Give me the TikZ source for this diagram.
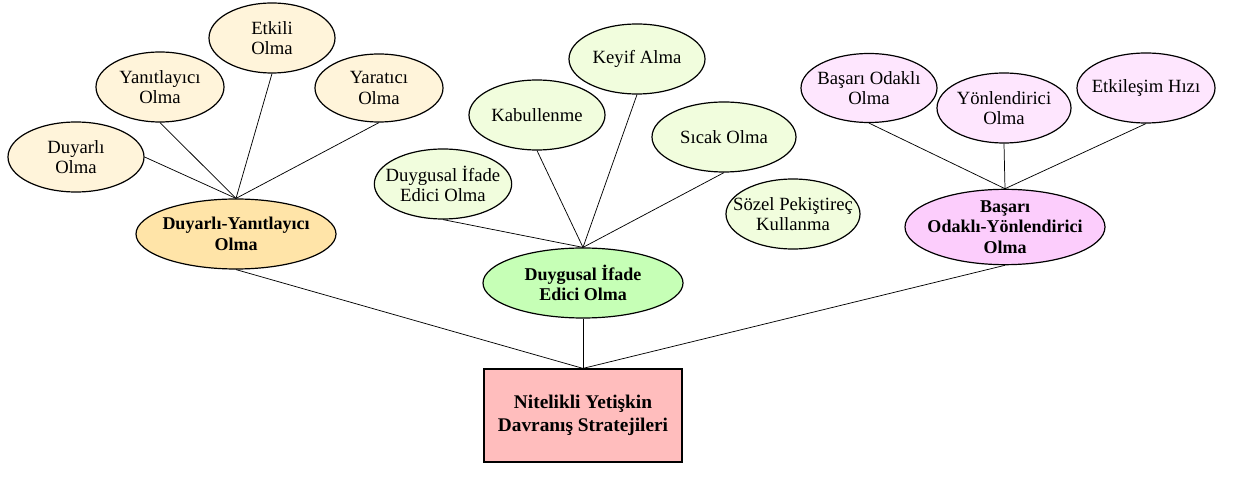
\documentclass[tikz,border=0pt]{standalone}
\usepackage{fontspec}
\setmainfont{Liberation Serif}
\usetikzlibrary{shapes.geometric}
\definecolor{ylight}{HTML}{FFF4DA}
\definecolor{ymain}{HTML}{FFE4A8}
\definecolor{glight}{HTML}{F1FDDD}
\definecolor{gmain}{HTML}{C6FFB6}
\definecolor{plight}{HTML}{FEE6FE}
\definecolor{pmain}{HTML}{FCCDFC}
\definecolor{rootfill}{HTML}{FFBDBD}
\tikzset{
  oval/.style={ellipse, draw=black, line width=0.9pt, inner ysep=0pt, inner xsep=-14pt,
    align=center, minimum width=102pt, minimum height=52.5pt,
    font=\fontsize{14}{15.5}\selectfont},
  mainoval/.style={oval, inner xsep=-8pt, minimum width=150pt,
    font=\fontsize{13.5}{15.5}\selectfont\bfseries},
  rootbox/.style={rectangle, draw=black, line width=0.9pt, fill=rootfill, align=center,
    minimum width=148.5pt, minimum height=69.75pt, inner sep=0pt,
    font=\fontsize{14.5}{17.5}\selectfont\bfseries},
  link/.style={draw=black, line width=0.55pt}
}
\begin{document}
\begin{tikzpicture}[x=0.75pt,y=-0.75pt]
\useasboundingbox (0,0) rectangle (1233,477);

% first branch
\node[oval, fill=ylight, minimum width=94.5pt] (etk) at (272,38) {Etkili\\Olma};
\node[oval, fill=ylight, minimum width=96pt] (yan) at (160,87) {Yanıtlayıcı\\Olma};
\node[oval, fill=ylight, minimum width=96pt, minimum height=51pt] (yar) at (379,88) {Yaratıcı\\Olma};
\node[oval, fill=ylight] (duy) at (76,157) {Duyarlı\\Olma};
\node[mainoval, fill=ymain] (dy) at (236,234) {Duyarlı-Yanıtlayıcı\\Olma};

% second branch
\node[oval, fill=glight] (key) at (637,59) {Keyif Alma};
\node[oval, fill=glight] (kab) at (537,115) {Kabullenme};
\node[oval, fill=glight, minimum width=108pt] (sic) at (724,137) {Sıcak Olma};
\node[oval, fill=glight, minimum width=103pt] (dis) at (443,184) {Duygusal İfade\\Edici Olma};
\node[oval, fill=glight, minimum width=100.5pt] (soz) at (793,214) {Sözel Pekiştireç\\Kullanma};
\node[mainoval, fill=gmain] (die) at (583,283) {Duygusal İfade\\Edici Olma};

% third branch
\node[oval, fill=plight, minimum height=51.75pt] (bas) at (869,88) {Başarı Odaklı\\Olma};
\node[oval, fill=plight, minimum width=100.5pt] (yon) at (1004,108) {Yönlendirici\\Olma};
\node[oval, fill=plight, minimum width=103.5pt] (etl) at (1146,88) {Etkileşim Hızı};
\node[mainoval, fill=pmain] (boy) at (1005,227) {Başarı\\Odaklı-Yönlendirici\\Olma};

% root
\node[rootbox] (root) at (583,415.5) {Nitelikli Yetişkin\\Davranış Stratejileri};

% connectors
\draw[link] (duy.east) -- (dy.north);
\draw[link] (yan.south) -- (dy.north);
\draw[link] (etk.south) -- (dy.north);
\draw[link] (yar.south) -- (dy.north);

\draw[link] (dis.south) -- (die.north);
\draw[link] (kab.south) -- (die.north);
\draw[link] (key.south) -- (die.north);
\draw[link] (sic.south) -- (die.north);

\draw[link] (bas.south) -- (boy.north);
\draw[link] (yon.south) -- (boy.north);
\draw[link] (etl.south) -- (boy.north);

\draw[link] (dy.south) -- (root.north);
\draw[link] (die.south) -- (root.north);
\draw[link] (boy.south) -- (root.north);
\end{tikzpicture}
\end{document}
